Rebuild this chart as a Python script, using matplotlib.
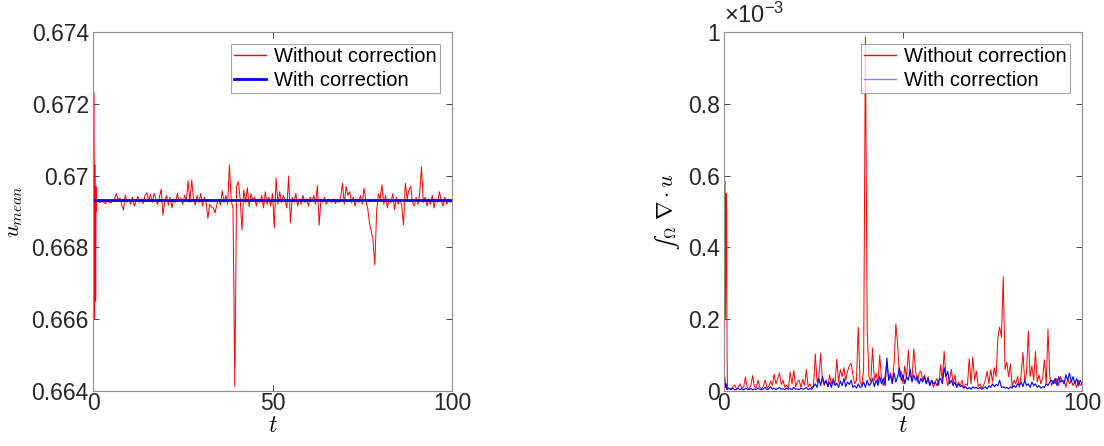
import numpy as np
import matplotlib
matplotlib.use("Agg")
import matplotlib.pyplot as plt
from matplotlib.lines import Line2D
from matplotlib.ticker import FuncFormatter

plt.rcParams['font.family'] = ['Liberation Sans', 'DejaVu Sans']
plt.rcParams['mathtext.fontset'] = 'cm'

# start of the run (t < 1) is read on a finer time grid
t_start = [0.0, 0.3, 0.45, 0.6, 0.75, 0.85, 0.95]
# rest of the run, one reading every 0.5 time units from t = 1 to 100
t_rest = np.arange(1.0, 100.01, 0.5)

# left panel: mean of u
umean_start_nocorr = [0.6693, 0.6723, 0.6660, 0.6703, 0.6665, 0.6697, 0.6690]
umean_rest_nocorr = [
    0.66925,
    0.66928, 0.66925, 0.66930, 0.66926, 0.66922, 0.66929, 0.66927, 0.66924, 0.66930, 0.66935,
    0.66950, 0.66932, 0.66938, 0.66918, 0.66904, 0.66946, 0.66925, 0.66935, 0.66920, 0.66940,
    0.66915, 0.66930, 0.66942, 0.66925, 0.66935, 0.66922, 0.66945, 0.66952, 0.66930, 0.66948,
    0.66925, 0.66950, 0.66935, 0.66920, 0.66940, 0.66962, 0.66890, 0.66930, 0.66945, 0.66918,
    0.66940, 0.66910, 0.66935, 0.66925, 0.66950, 0.66928, 0.66938, 0.66920, 0.66945, 0.66930,
    0.66986, 0.66925, 0.66988, 0.66935, 0.66918, 0.66945, 0.66925, 0.66950, 0.66915, 0.66940,
    0.66925, 0.66881, 0.66920, 0.66913, 0.66910, 0.66896, 0.66920, 0.66935, 0.66918, 0.66958,
    0.66925, 0.66945, 0.66920, 0.67030, 0.66930, 0.66910, 0.66412, 0.66970, 0.66983, 0.66935,
    0.66848, 0.66960, 0.66925, 0.66966, 0.66913, 0.66950, 0.66930, 0.66940, 0.66915, 0.66935,
    0.66925, 0.66945, 0.66910, 0.66955, 0.66920, 0.66940, 0.66915, 0.66950, 0.66854, 0.66993,
    0.66920, 0.66955, 0.66925, 0.66945, 0.66930, 0.66910, 0.66999, 0.66868, 0.66940, 0.66925,
    0.66950, 0.66915, 0.66935, 0.66920, 0.66945, 0.66925, 0.66935, 0.66915, 0.66940, 0.66928,
    0.66945, 0.66920, 0.66972, 0.66862, 0.66935, 0.66925, 0.66940, 0.66920, 0.66935, 0.66928,
    0.66925, 0.66935, 0.66922, 0.66930, 0.66925, 0.66940, 0.66979, 0.66920, 0.66970, 0.66945,
    0.66955, 0.66925, 0.66940, 0.66915, 0.66935, 0.66925, 0.66945, 0.66920, 0.66965, 0.66930,
    0.66910, 0.66870, 0.66845, 0.66820, 0.66751, 0.66900, 0.66950, 0.66935, 0.66974, 0.66920,
    0.66945, 0.66910, 0.66935, 0.66925, 0.66950, 0.66905, 0.66940, 0.66920, 0.66935, 0.66915,
    0.66862, 0.66979, 0.66935, 0.66960, 0.66970, 0.66925, 0.66915, 0.66940, 0.66920, 0.66950,
    0.67024, 0.66925, 0.66940, 0.66915, 0.66935, 0.66920, 0.66945, 0.66910, 0.66935, 0.66925,
    0.66955, 0.66930, 0.66915, 0.66940, 0.66920, 0.66935, 0.66925, 0.66930,
]
t_corr = [0.0, 100.0]
umean_corr = [0.66932, 0.66932]

# right panel: integral of div u, in units of 1e-3
div_start_nocorr = [0.05, 0.585, 0.20, 0.55, 0.50, 0.10, 0.02]
div_rest_nocorr = [
    0.010,
    0.008, 0.005, 0.012, 0.017, 0.006, 0.010, 0.020, 0.007, 0.012, 0.039,
    0.010, 0.006, 0.015, 0.043, 0.012, 0.008, 0.030, 0.010, 0.006, 0.014,
    0.030, 0.009, 0.012, 0.027, 0.015, 0.047, 0.020, 0.035, 0.050, 0.018,
    0.030, 0.010, 0.016, 0.008, 0.053, 0.020, 0.057, 0.012, 0.025, 0.030,
    0.010, 0.032, 0.015, 0.060, 0.012, 0.020, 0.008, 0.015, 0.103, 0.025,
    0.040, 0.105, 0.030, 0.015, 0.030, 0.012, 0.045, 0.020, 0.035, 0.018,
    0.089, 0.025, 0.060, 0.040, 0.065, 0.030, 0.055, 0.070, 0.077, 0.045,
    0.020, 0.030, 0.178, 0.025, 0.015, 0.060, 0.987, 0.168, 0.040, 0.025,
    0.120, 0.030, 0.050, 0.020, 0.100, 0.035, 0.015, 0.045, 0.080, 0.030,
    0.050, 0.025, 0.077, 0.187, 0.130, 0.040, 0.055, 0.020, 0.070, 0.035,
    0.114, 0.045, 0.030, 0.117, 0.060, 0.025, 0.050, 0.055, 0.030, 0.045,
    0.020, 0.040, 0.015, 0.030, 0.010, 0.025, 0.035, 0.015, 0.073, 0.030,
    0.111, 0.040, 0.015, 0.030, 0.060, 0.020, 0.045, 0.010, 0.025, 0.015,
    0.030, 0.008, 0.020, 0.015, 0.090, 0.020, 0.095, 0.030, 0.055, 0.012,
    0.020, 0.008, 0.015, 0.030, 0.055, 0.020, 0.060, 0.025, 0.065, 0.040,
    0.148, 0.178, 0.150, 0.318, 0.060, 0.080, 0.040, 0.075, 0.012, 0.030,
    0.020, 0.040, 0.010, 0.045, 0.107, 0.025, 0.050, 0.167, 0.040, 0.070,
    0.030, 0.110, 0.025, 0.045, 0.020, 0.035, 0.087, 0.020, 0.172, 0.040,
    0.015, 0.030, 0.020, 0.035, 0.015, 0.040, 0.025, 0.030, 0.010, 0.035,
    0.020, 0.030, 0.015, 0.025, 0.010, 0.030, 0.015, 0.020,
]
div_start_corr = [0.055, 0.03, 0.01, 0.02, 0.005, 0.008, 0.004]
div_rest_corr = [
    0.006,
    0.006, 0.004, 0.008, 0.003, 0.005, 0.007, 0.004, 0.006, 0.003, 0.008,
    0.005, 0.004, 0.007, 0.003, 0.006, 0.004, 0.008, 0.005, 0.003, 0.006,
    0.010, 0.004, 0.006, 0.012, 0.005, 0.008, 0.004, 0.007, 0.010, 0.005,
    0.006, 0.004, 0.008, 0.005, 0.007, 0.004, 0.010, 0.005, 0.006, 0.004,
    0.008, 0.005, 0.006, 0.010, 0.004, 0.007, 0.005, 0.012, 0.020, 0.010,
    0.035, 0.015, 0.040, 0.020, 0.030, 0.012, 0.025, 0.010, 0.030, 0.015,
    0.022, 0.010, 0.028, 0.015, 0.035, 0.012, 0.025, 0.018, 0.030, 0.010,
    0.015, 0.008, 0.020, 0.010, 0.012, 0.025, 0.010, 0.030, 0.015, 0.020,
    0.035, 0.012, 0.030, 0.015, 0.040, 0.020, 0.035, 0.015, 0.092, 0.030,
    0.045, 0.020, 0.050, 0.025, 0.040, 0.065, 0.030, 0.045, 0.020, 0.040,
    0.030, 0.060, 0.025, 0.045, 0.030, 0.040, 0.020, 0.035, 0.025, 0.040,
    0.020, 0.035, 0.015, 0.030, 0.020, 0.025, 0.015, 0.030, 0.035, 0.020,
    0.065, 0.040, 0.055, 0.020, 0.030, 0.015, 0.025, 0.010, 0.020, 0.012,
    0.015, 0.008, 0.012, 0.006, 0.010, 0.005, 0.012, 0.008, 0.010, 0.006,
    0.010, 0.005, 0.008, 0.012, 0.006, 0.015, 0.010, 0.020, 0.012, 0.018,
    0.015, 0.030, 0.010, 0.012, 0.008, 0.010, 0.006, 0.012, 0.008, 0.015,
    0.010, 0.020, 0.015, 0.025, 0.012, 0.030, 0.015, 0.020, 0.010, 0.025,
    0.015, 0.020, 0.010, 0.015, 0.008, 0.012, 0.010, 0.020, 0.015, 0.025,
    0.030, 0.020, 0.035, 0.015, 0.040, 0.025, 0.030, 0.020, 0.045, 0.030,
    0.050, 0.025, 0.040, 0.020, 0.035, 0.015, 0.030, 0.020,
]

t_all = np.concatenate([t_start, t_rest])
umean_nocorr = np.concatenate([umean_start_nocorr, umean_rest_nocorr])
div_nocorr = np.concatenate([div_start_nocorr, div_rest_nocorr]) * 1e-3
div_corr = np.concatenate([div_start_corr, div_rest_corr]) * 1e-3

fig = plt.figure(figsize=(11.04, 4.46), dpi=100)
ax1 = fig.add_axes([93 / 1104, 55 / 446, 359 / 1104, 359 / 446])
ax2 = fig.add_axes([724 / 1104, 55 / 446, 358 / 1104, 359 / 446])

red = '#ff0000'
blue = '#0000ff'
labels = ['Without correction', 'With correction']

ax1.plot(t_all, umean_nocorr, color=red, lw=0.7)
ax1.plot(t_corr, umean_corr, color=blue, lw=2.0)
ax1.set_xlim(0, 100)
ax1.set_ylim(0.664, 0.674)
ax1.set_yticks([0.664, 0.666, 0.668, 0.67, 0.672, 0.674])
ax1.yaxis.set_major_formatter(FuncFormatter(lambda v, _: f"{v:g}"))
ax1.set_ylabel(r'$u_{mean}$', fontsize=16, labelpad=5)
handles1 = [Line2D([], [], color=red, lw=1.0), Line2D([], [], color=blue, lw=2.0)]

ax2.plot(t_all, div_nocorr, color=red, lw=0.7)
ax2.plot(t_all, div_corr, color=blue, lw=0.8)
ax2.set_xlim(0, 100)
ax2.set_ylim(0, 1e-3)
ax2.set_yticks([0, 0.2e-3, 0.4e-3, 0.6e-3, 0.8e-3, 1e-3])
ax2.yaxis.set_major_formatter(FuncFormatter(lambda v, _: f"{v * 1e3:g}"))
ax2.set_ylabel(r'$∫_{\Omega}\ \nabla\cdot u$', fontsize=16, labelpad=4)
ax2.text(0, 1.012, r'$\mathregular{\times 10^{-3}}$', transform=ax2.transAxes,
         fontsize=17, color='#262626', ha='left', va='bottom')
handles2 = [Line2D([], [], color=red, lw=1.0), Line2D([], [], color='#8080ff', lw=1.0)]

for ax, hs in ((ax1, handles1), (ax2, handles2)):
    ax.set_xticks([0, 50, 100])
    ax.tick_params(direction='in', top=True, right=True, labelsize=16.5,
                   colors='#262626', length=4, width=0.6)
    ax.tick_params(axis='x', pad=1)
    ax.tick_params(axis='y', pad=3)
    ax.set_xlabel(r'$t$', fontsize=17, labelpad=0)
    for s in ax.spines.values():
        s.set_color('#8c8c8c')
        s.set_linewidth(0.8)
    leg = ax.legend(hs, labels, loc='upper right', fontsize=14.5, frameon=True,
                    fancybox=False, borderpad=0.15, labelspacing=0.25,
                    handlelength=1.6, handletextpad=0.4, borderaxespad=0.6)
    leg.get_frame().set_edgecolor('#8c8c8c')
    leg.get_frame().set_linewidth(0.8)

fig.savefig('out.png', dpi=100)
